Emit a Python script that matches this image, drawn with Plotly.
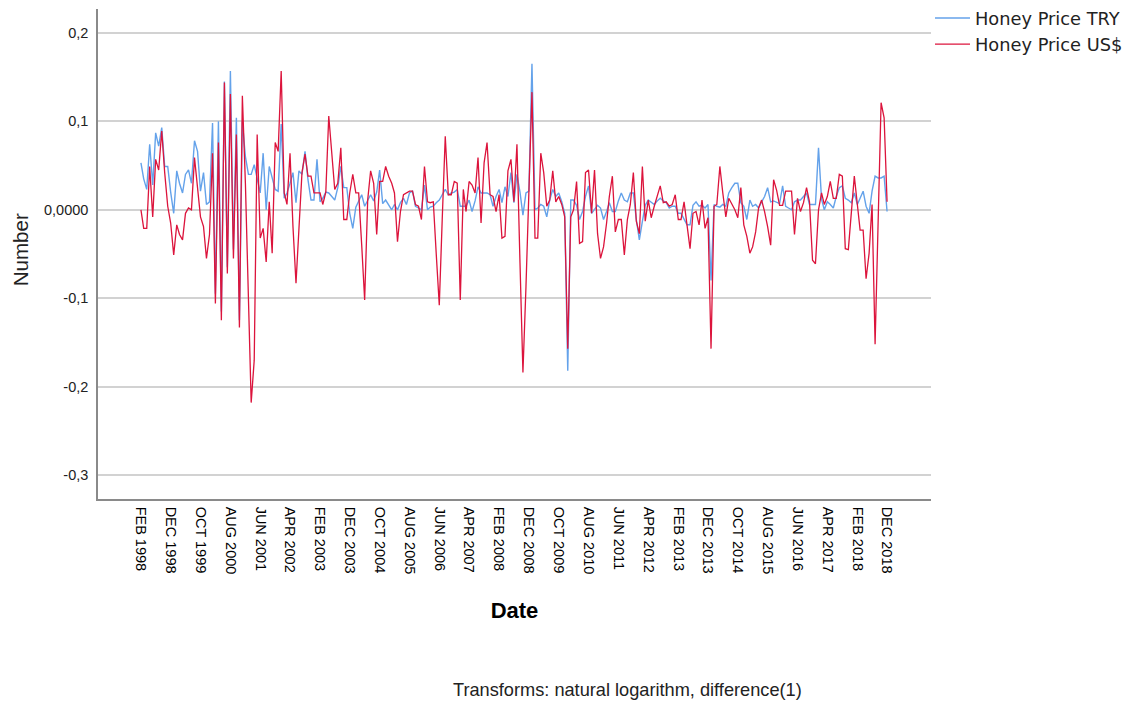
import pandas as pd
import plotly.graph_objects as go

# Monthly log-differences, Feb 1998 .. Dec 2018
honey_try = [
    0.053, 0.035, 0.023, 0.074, 0.028, 0.087, 0.072, 0.093, 0.049, 0.049,
    0.020, -0.004, 0.044, 0.030, 0.019, 0.040, 0.045, 0.030, 0.078, 0.066,
    0.021, 0.042, 0.006, 0.009, 0.098, -0.095, 0.100, -0.115, 0.145, -0.065,
    0.157, -0.045, 0.104, -0.125, 0.100, 0.060, 0.040, 0.040, 0.051, 0.035,
    0.019, 0.064, 0.000, 0.049, 0.035, 0.023, 0.021, 0.097, 0.013, 0.019,
    0.030, 0.042, 0.008, 0.044, 0.040, 0.066, 0.034, 0.011, 0.011, 0.057,
    0.009, 0.013, 0.020, 0.019, 0.015, 0.011, 0.025, 0.049, 0.025, 0.025,
    -0.004, -0.021, 0.003, 0.009, 0.017, 0.004, 0.010, 0.017, 0.010, 0.020,
    0.045, 0.007, 0.011, 0.005, 0.000, 0.006, 0.000, 0.008, 0.013, 0.006,
    0.019, 0.021, 0.004, 0.002, 0.000, 0.028, 0.000, 0.003, 0.004, 0.008,
    0.011, 0.017, 0.023, 0.017, 0.019, 0.020, 0.023, 0.004, 0.004, 0.004,
    0.011, -0.002, 0.010, 0.026, 0.019, 0.019, 0.019, 0.017, 0.004, 0.015,
    0.023, 0.008, 0.026, 0.015, 0.042, 0.008, 0.040, 0.020, -0.006, 0.019,
    0.021, 0.165, 0.000, 0.002, 0.006, 0.004, -0.008, 0.011, 0.023, 0.015,
    0.019, 0.009, -0.004, -0.182, 0.011, 0.011, 0.005, -0.011, -0.002, 0.015,
    0.027, -0.004, 0.000, 0.005, 0.002, -0.011, -0.002, 0.008, -0.002, -0.002,
    0.010, 0.019, 0.011, 0.009, 0.019, 0.019, -0.011, -0.034, -0.013, 0.005,
    0.011, 0.008, 0.006, 0.010, 0.013, 0.010, 0.008, 0.002, 0.004, 0.004,
    -0.004, -0.004, -0.010, -0.017, -0.017, 0.005, 0.009, 0.004, 0.005, 0.002,
    0.006, -0.080, 0.006, 0.004, 0.003, 0.006, 0.004, 0.019, 0.025, 0.030,
    0.030, 0.008, 0.004, -0.011, 0.011, 0.004, 0.006, 0.002, 0.009, 0.015,
    0.025, 0.009, 0.010, 0.008, 0.007, 0.027, 0.004, 0.002, 0.000, 0.009,
    0.011, 0.011, 0.015, 0.019, 0.006, 0.006, 0.006, 0.070, 0.012, 0.000,
    0.009, 0.006, 0.002, 0.015, 0.025, 0.027, 0.013, 0.011, 0.008, 0.019,
    0.006, 0.013, 0.021, 0.004, -0.004, 0.021, 0.038, 0.036, 0.036, 0.038,
    -0.002,
]

honey_usd = [
    0.000, -0.021, -0.021, 0.049, -0.008, 0.057, 0.045, 0.089, 0.042, 0.004,
    -0.015, -0.051, -0.017, -0.028, -0.034, -0.004, 0.002, 0.000, 0.059, 0.027,
    -0.008, -0.019, -0.055, -0.028, 0.064, -0.106, 0.076, -0.125, 0.144, -0.072,
    0.131, -0.055, 0.085, -0.133, 0.129, 0.030, -0.090, -0.218, -0.170, 0.085,
    -0.032, -0.021, -0.059, 0.009, -0.049, 0.076, 0.066, 0.157, 0.019, 0.006,
    0.064, -0.019, -0.083, -0.020, 0.042, 0.063, 0.038, 0.038, 0.019, 0.019,
    0.019, 0.006, 0.020, 0.106, 0.064, 0.023, 0.030, 0.070, -0.011, -0.011,
    0.019, 0.040, 0.019, 0.019, -0.040, -0.102, 0.011, 0.044, 0.030, -0.028,
    0.032, 0.032, 0.049, 0.038, 0.030, 0.019, -0.036, -0.002, 0.017, 0.019,
    0.021, 0.021, 0.006, 0.004, -0.011, 0.049, 0.009, 0.008, 0.009, -0.050,
    -0.108, -0.011, 0.083, 0.017, 0.017, 0.032, 0.030, -0.102, 0.023, -0.002,
    0.032, 0.028, 0.019, 0.059, -0.015, 0.053, 0.076, 0.017, 0.015, -0.002,
    0.017, -0.032, -0.030, 0.044, 0.057, 0.009, 0.074, -0.060, -0.184, -0.087,
    0.021, 0.133, -0.032, -0.032, 0.064, 0.042, 0.004, 0.011, 0.044, 0.009,
    0.015, 0.006, -0.008, -0.157, -0.008, 0.000, 0.032, -0.038, -0.036, 0.042,
    0.045, -0.004, 0.045, -0.027, -0.055, -0.042, -0.015, 0.015, 0.038, -0.025,
    -0.011, -0.011, -0.051, -0.011, 0.006, 0.042, -0.013, -0.027, 0.049, -0.013,
    0.011, -0.009, 0.004, 0.015, 0.027, 0.008, 0.009, 0.004, 0.006, 0.017,
    -0.011, -0.011, 0.009, -0.017, -0.044, -0.004, -0.002, -0.017, 0.011, -0.021,
    -0.009, -0.157, 0.004, 0.006, 0.049, 0.019, -0.008, 0.013, 0.006, 0.000,
    -0.009, 0.025, -0.017, -0.030, -0.049, -0.042, -0.025, 0.002, 0.011, -0.002,
    -0.019, -0.040, 0.034, 0.022, 0.005, 0.005, 0.021, 0.021, 0.021, -0.028,
    0.013, -0.002, 0.008, 0.025, 0.009, -0.057, -0.061, 0.000, 0.019, 0.006,
    0.015, 0.032, 0.013, 0.013, 0.040, 0.038, -0.044, -0.045, 0.000, 0.038,
    0.006, -0.023, -0.023, -0.078, -0.049, 0.006, -0.152, -0.020, 0.121, 0.104,
    0.009,
]

dates = pd.date_range("1998-02-01", periods=len(honey_try), freq="MS")
tick_dates = list(dates[::10])
tick_labels = [d.strftime("%b %Y").upper() for d in tick_dates]

y_ticks = [-0.3, -0.2, -0.1, 0.0, 0.1, 0.2]
y_tick_labels = ["-0,3", "-0,2", "-0,1", "0,0000", "0,1", "0,2"]

fig = go.Figure()
fig.add_trace(go.Scatter(x=dates, y=honey_try, mode="lines", name="Honey Price TRY",
                         line=dict(color="#64a2ea", width=1.4)))
fig.add_trace(go.Scatter(x=dates, y=honey_usd, mode="lines", name="Honey Price US$",
                         line=dict(color="#dc143c", width=1.3)))

# page body has an 8px margin, so the figure is sized to fit inside the window
fig.update_layout(
    width=1126, height=697,
    margin=dict(l=90, r=203, t=1, b=206, pad=0, autoexpand=False),
    paper_bgcolor="white", plot_bgcolor="white",
    font=dict(family="Liberation Sans, Arial, sans-serif", color="#000"),
    legend=dict(x=0.9988, y=1.0184, xanchor="left", yanchor="top",
                font=dict(family="DejaVu Sans, sans-serif", size=17.8, color="#222"),
                bgcolor="rgba(0,0,0,0)", borderwidth=0, tracegroupgap=0,
                itemwidth=35),
    showlegend=True,
)

fig.update_xaxes(
    type="date",
    range=["1996-11-20", "2020-02-22"],
    tickvals=tick_dates, ticktext=tick_labels, tickangle=90,
    tickfont=dict(size=14.5, color="#000"),
    showgrid=False, zeroline=False,
    showline=True, linecolor="#8a8a8a", linewidth=1.5,
    ticks="outside", ticklen=3, tickcolor="rgba(0,0,0,0)",
    title=dict(text="<b>Date</b>", font=dict(size=22, color="#000"), standoff=29),
)
fig.update_yaxes(
    range=[-0.327, 0.227],
    tickvals=y_ticks, ticktext=y_tick_labels,
    tickfont=dict(size=14.5, color="#222"),
    showgrid=True, gridcolor="#d2d2d2", gridwidth=2,
    zeroline=False,
    showline=True, linecolor="#8a8a8a", linewidth=1.5,
    ticks="outside", ticklen=5, tickcolor="rgba(0,0,0,0)",
)

fig.add_annotation(
    text="Number", textangle=-90,
    xref="paper", yref="paper", x=-0.0935, y=0.508,
    xanchor="center", yanchor="middle", showarrow=False,
    font=dict(size=20.5, color="#222"),
)

fig.add_annotation(
    text="Transforms: natural logarithm, difference(1)",
    xref="paper", yref="paper", x=0.636, y=-0.39,
    xanchor="center", yanchor="middle", showarrow=False,
    font=dict(size=18.2, color="#222"),
)

fig.write_html("out.html")
